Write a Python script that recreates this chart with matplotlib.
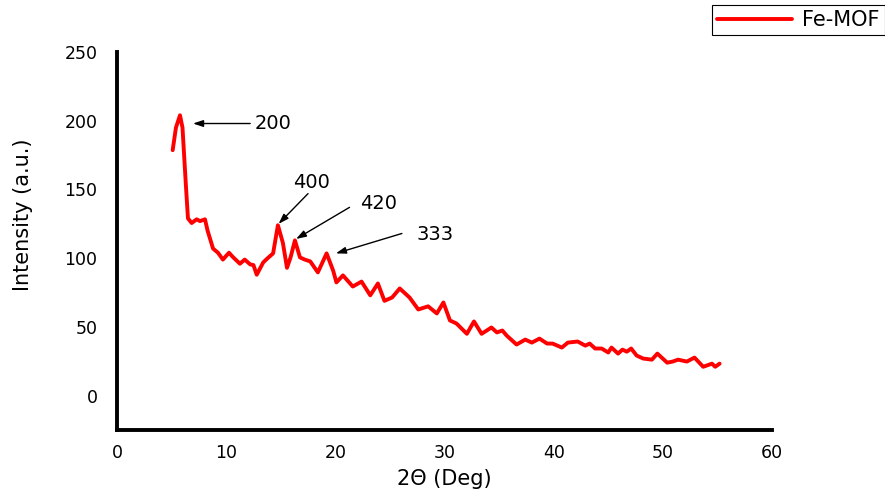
import matplotlib
matplotlib.use("Agg")
import matplotlib.pyplot as plt

plt.rcParams['font.family'] = ['DejaVu Sans']

# 2theta (deg) and intensity (a.u.)
two_theta = [5.1, 5.4, 5.77, 6.0, 6.3, 6.5, 6.84, 7.3, 7.6, 8.06, 8.3, 8.8, 9.25, 9.7,
             10.26, 10.6, 11.26, 11.7, 12.2, 12.5, 12.8, 13.4, 13.8, 14.3, 14.74, 15.2,
             15.57, 15.9, 16.3, 16.76, 17.2, 17.7, 18.4, 19.2, 19.8, 20.1, 20.7, 21.6,
             22.4, 23.2, 23.9, 24.5, 25.2, 25.9, 26.8, 27.6, 28.5, 29.3, 29.9, 30.5,
             31.1, 32.05, 32.7, 33.4, 34.3, 34.8, 35.3, 35.7, 36.6, 37.4, 38.0, 38.7,
             39.4, 39.9, 40.75, 41.3, 42.2, 42.9, 43.3, 43.8, 44.4, 45.0, 45.3, 45.9,
             46.3, 46.7, 47.1, 47.6, 48.2, 49.0, 49.5, 50.4, 50.9, 51.4, 52.2, 52.9,
             53.7, 54.5, 54.8, 55.2]
intensity = [178.6, 195, 204, 195, 154.5, 129, 125.6, 128.3, 127, 128.3, 120, 107, 104, 99,
             104, 101, 96, 99, 95.5, 95, 88, 97, 100, 103.5, 124, 111,
             93, 100.6, 113, 100.6, 99, 97.7, 89.7, 103.5, 91, 82.4, 87.5, 79.4,
             83, 73, 81.6, 69, 71.4, 78, 71.4, 62.7, 65, 59.8, 67.8, 54.7,
             52.5, 45, 54, 45, 49.6, 46, 47.4, 43.7, 37.2, 40.8, 38.6, 41.5,
             37.9, 37.9, 35, 38.6, 39.4, 36.4, 37.9, 34.3, 34.3, 31.4, 35, 30.6,
             33.5, 32, 34.3, 29.2, 27, 26.2, 30.6, 24, 24.8, 26.2, 24.8, 27.7,
             21, 23.3, 21, 23.3]

peak_labels = ["200", "400", "420", "333"]
arrow_heads = [(6.96, 198), (14.8, 125), (16.4, 114), (20.05, 103.5)]
label_pos = [(12.6, 198), (16.1, 155), (22.25, 140), (27.4, 117)]
arrow_tails = [(12.2, 198), (17.5, 147), (21.3, 137), (26.1, 118)]

x_ticks = [0, 10, 20, 30, 40, 50, 60]
y_ticks = [0, 50, 100, 150, 200, 250]

fig = plt.figure(figsize=(8.85, 4.9), dpi=100)
ax = fig.add_axes([0.1322, 0.1224, 0.7401, 0.7714])

ax.plot(two_theta, intensity, color='red', lw=2.8, label='Fe-MOF',
        solid_joinstyle='round', solid_capstyle='round')

for lab, head, tail, pos in zip(peak_labels, arrow_heads, arrow_tails, label_pos):
    ax.annotate('', xy=head, xytext=tail,
                arrowprops=dict(arrowstyle='-|>,head_length=0.6,head_width=0.2',
                                color='black', lw=1.0, shrinkA=0, shrinkB=0))
    ax.text(pos[0], pos[1], lab, fontsize=14, ha='left', va='center')

ax.set_xlim(0, 60)
ax.set_ylim(-25, 250)
ax.set_xticks(x_ticks)
ax.set_yticks(y_ticks)
ax.tick_params(length=0, labelsize=12.5)
ax.tick_params(axis='y', pad=14)
ax.tick_params(axis='x', pad=10)
for s in ['top', 'right']:
    ax.spines[s].set_visible(False)
for s in ['left', 'bottom']:
    ax.spines[s].set_linewidth(2.8)

ax.set_xlabel('2Θ (Deg)', fontsize=15, labelpad=5)
fig.text(0.026, 0.561, 'Intensity (a.u.)', rotation=90, fontsize=15, ha='center', va='center')

leg = fig.legend(loc='upper right', bbox_to_anchor=(1.0, 0.99), fontsize=15,
                 handlelength=3.6, fancybox=False, edgecolor='black', borderaxespad=0,
                 borderpad=0.25, handletextpad=0.5, framealpha=1)
leg.get_frame().set_linewidth(0.8)

fig.savefig('out.png', dpi=100)
